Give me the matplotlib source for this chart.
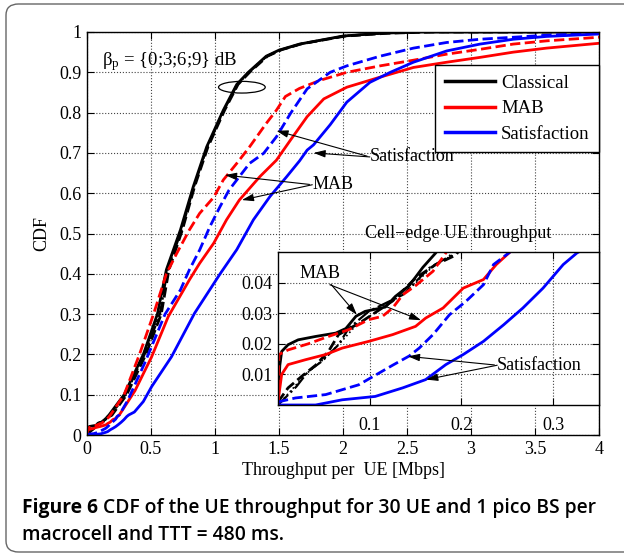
import matplotlib.pyplot as plt
from matplotlib.patches import Ellipse, FancyBboxPatch

plt.rcParams['font.family'] = 'Liberation Serif'
plt.rcParams['mathtext.fontset'] = 'custom'
plt.rcParams['mathtext.rm'] = 'Liberation Serif'
plt.rcParams['mathtext.it'] = 'Liberation Serif:italic'
plt.rcParams['font.size'] = 13

# Classical, beta_p = 0 / 3 / 6 / 9 dB (black)
cl0_x = [0, 0.002, 0.004, 0.011, 0.022, 0.041, 0.063, 0.074, 0.085, 0.095, 0.117, 0.128, 0.143, 0.158, 0.172,
         0.29, 0.44, 0.55, 0.62, 0.73, 0.83, 0.935, 1.065, 1.17, 1.26, 1.40, 1.50, 1.66, 2.0, 2.3, 2.6, 4.0]
cl0_y = [0, 0.013, 0.0175, 0.0197, 0.0213, 0.0224, 0.0235, 0.025, 0.029, 0.0306, 0.032, 0.0355, 0.039, 0.045, 0.0497,
         0.10, 0.20, 0.30, 0.41, 0.509, 0.616, 0.715, 0.806, 0.87, 0.90, 0.94, 0.955, 0.97, 0.99, 0.997, 1.0, 1.0]
cl3_x = [0, 0.011, 0.026, 0.041, 0.055, 0.066, 0.09, 0.125, 0.150, 0.172, 0.194,
         0.31, 0.46, 0.58, 0.64, 0.745, 0.84, 0.945, 1.075, 1.18, 1.27, 1.41, 1.52, 1.68, 2.02, 2.35, 2.7, 4.0]
cl3_y = [0.001, 0.0056, 0.0094, 0.013, 0.0175, 0.023, 0.027, 0.034, 0.0415, 0.0459, 0.049,
         0.10, 0.20, 0.30, 0.41, 0.509, 0.616, 0.715, 0.806, 0.87, 0.90, 0.94, 0.956, 0.971, 0.99, 0.997, 1.0, 1.0]
cl6_x = [0, 0.02, 0.033, 0.048, 0.066, 0.077, 0.099, 0.136, 0.165, 0.187,
         0.30, 0.45, 0.57, 0.63, 0.74, 0.835, 0.94, 1.07, 1.175, 1.265, 1.405, 1.51, 1.67, 2.01, 2.32, 2.65, 4.0]
cl6_y = [0, 0.006, 0.011, 0.0143, 0.0197, 0.025, 0.0306, 0.036, 0.0448, 0.0486,
         0.10, 0.20, 0.30, 0.41, 0.509, 0.616, 0.715, 0.806, 0.87, 0.90, 0.94, 0.955, 0.97, 0.99, 0.997, 1.0, 1.0]
cl9_x = [0, 0.03, 0.05, 0.07, 0.085, 0.11, 0.14, 0.168, 0.19,
         0.30, 0.45, 0.565, 0.625, 0.735, 0.835, 0.94, 1.07, 1.17, 1.26, 1.40, 1.51, 1.67, 2.0, 2.3, 2.6, 4.0]
cl9_y = [0, 0.01, 0.015, 0.021, 0.026, 0.031, 0.037, 0.045, 0.049,
         0.10, 0.20, 0.30, 0.41, 0.509, 0.616, 0.715, 0.806, 0.87, 0.90, 0.94, 0.955, 0.97, 0.99, 0.997, 1.0, 1.0]

# MAB (red)
mab_x = [0, 0.004, 0.011, 0.030, 0.052, 0.070, 0.099, 0.125, 0.150, 0.161, 0.180, 0.202, 0.224, 0.238, 0.253,
         0.375, 0.505, 0.635, 0.80, 0.88, 0.99, 1.09, 1.19, 1.35, 1.48, 1.59, 1.72, 1.85, 2.03, 2.29, 2.55, 2.81,
         3.07, 3.33, 3.59, 4.0]
mab_y = [0.001, 0.01, 0.0132, 0.0148, 0.0165, 0.0186, 0.0208, 0.023, 0.0257, 0.0284, 0.0317, 0.0382, 0.041, 0.0459,
         0.05, 0.11, 0.194, 0.294, 0.385, 0.426, 0.476, 0.534, 0.583, 0.641, 0.682, 0.732, 0.79, 0.834, 0.863, 0.888,
         0.912, 0.925, 0.937, 0.95, 0.96, 0.972]
mab_dash_x = [0, 0.001, 0.011, 0.033, 0.055, 0.077, 0.099, 0.114, 0.125, 0.136, 0.150, 0.169, 0.183,
              0.29, 0.41, 0.52, 0.62, 0.70, 0.80, 0.88, 0.99, 1.065, 1.17, 1.27, 1.40, 1.48, 1.55, 1.66, 1.82,
              2.03, 2.29, 2.55, 2.81, 3.07, 3.33, 3.59, 4.0]
mab_dash_y = [0, 0.0165, 0.018, 0.020, 0.0224, 0.0246, 0.0279, 0.029, 0.0317, 0.036, 0.039, 0.0437, 0.0497,
              0.10, 0.20, 0.30, 0.40, 0.45, 0.509, 0.55, 0.59, 0.633, 0.674, 0.715, 0.773, 0.806, 0.84, 0.86, 0.88,
              0.90, 0.916, 0.93, 0.945, 0.957, 0.97, 0.978, 0.987]

# Satisfaction (blue)
sat_x = [0, 0.041, 0.070, 0.106, 0.136, 0.161, 0.183, 0.202, 0.224, 0.246, 0.267, 0.289, 0.311, 0.326,
         0.37, 0.44, 0.505, 0.66, 0.84, 1.04, 1.17, 1.30, 1.43, 1.56, 1.66, 1.72, 1.77, 1.90, 2.03, 2.21, 2.37,
         2.55, 2.81, 3.07, 3.33, 3.59, 4.0]
sat_y = [0, 0.0, 0.0017, 0.0028, 0.0056, 0.0083, 0.0132, 0.0165, 0.0208, 0.0262, 0.0317, 0.0382, 0.0459, 0.0497,
         0.057, 0.083, 0.12, 0.194, 0.302, 0.40, 0.46, 0.534, 0.592, 0.641, 0.68, 0.707, 0.72, 0.77, 0.826, 0.875,
         0.90, 0.925, 0.953, 0.97, 0.982, 0.989, 0.995]
sat_dash_x = [0, 0.019, 0.052, 0.088, 0.125, 0.143, 0.154, 0.169, 0.187, 0.205, 0.224, 0.235, 0.253,
              0.32, 0.45, 0.61, 0.73, 0.80, 0.88, 0.96, 1.04, 1.11, 1.19, 1.27, 1.38, 1.48, 1.59, 1.72, 1.90,
              2.03, 2.29, 2.55, 2.81, 3.07, 3.59, 4.0]
sat_dash_y = [0.001, 0.0023, 0.0034, 0.0066, 0.013, 0.016, 0.0186, 0.023, 0.0295, 0.0339, 0.0393, 0.0459, 0.05,
              0.087, 0.178, 0.30, 0.36, 0.41, 0.459, 0.517, 0.567, 0.608, 0.641, 0.674, 0.699, 0.74, 0.798, 0.859,
              0.90, 0.916, 0.94, 0.96, 0.974, 0.982, 0.992, 0.997]

series = [
    (cl0_x, cl0_y, 'k', '-', 2.0),
    (cl3_x, cl3_y, 'k', '--', 2.0),
    (cl6_x, cl6_y, 'k', '-.', 1.6),
    (cl9_x, cl9_y, 'k', ':', 1.2),
    (mab_x, mab_y, 'r', '-', 2.0),
    (mab_dash_x, mab_dash_y, 'r', '--', 2.0),
    (sat_x, sat_y, 'b', '-', 2.0),
    (sat_dash_x, sat_dash_y, 'b', '--', 2.0),
]
legend_names = ['Classical', 'MAB', 'Satisfaction']
legend_colors = ['k', 'r', 'b']

W, H = 624, 556
fig = plt.figure(figsize=(W / 100, H / 100), dpi=100)

# rounded frame around the figure
fig.patches.append(FancyBboxPatch((6 / W, 4 / H), 700 / W, 548 / H, boxstyle='round,pad=0,rounding_size=0.02',
                                  transform=fig.transFigure, fill=False, ec='#666666', lw=1.0))

ax = fig.add_axes([87 / W, 1 - 435 / H, 512 / W, 403 / H])
for x, y, c, ls, lw in series:
    ax.plot(x, y, color=c, ls=ls, lw=lw)

ax.set_xlim(0, 4)
ax.set_ylim(0, 1)
ax.set_xticks([0, 0.5, 1, 1.5, 2, 2.5, 3, 3.5, 4])
ax.set_xticklabels(['0', '0.5', '1', '1.5', '2', '2.5', '3', '3.5', '4'])
ax.set_yticks([i / 10 for i in range(11)])
ax.set_yticklabels(['0', '0.1', '0.2', '0.3', '0.4', '0.5', '0.6', '0.7', '0.8', '0.9', '1'])
ax.tick_params(direction='in', top=True, right=True, length=5, width=0.8, pad=4)
ax.grid(True, ls=':', color='#444444', lw=0.8)
for s in ax.spines.values():
    s.set_linewidth(1.0)
ax.set_xlabel('Throughput per  UE [Mbps]', labelpad=3)
ax.set_ylabel('CDF', labelpad=6)

handles = [plt.Line2D([], [], color=c, lw=2.5) for c in legend_colors]
leg = ax.legend(handles, legend_names, loc='upper right', bbox_to_anchor=(1.0, 0.918), borderaxespad=0,
                fancybox=False, edgecolor='k', framealpha=1, handlelength=2.7, handletextpad=0.3,
                labelspacing=0.45, borderpad=0.5, fontsize=13.5)
leg.get_frame().set_linewidth(1.0)

ax.text(0.115, 0.917, r'β$_\mathrm{p}$ = {0;3;6;9} dB', fontsize=13.5, va='baseline')
ax.add_patch(Ellipse((1.21, 0.863), 0.365, 0.029, fill=False, ec='k', lw=0.9))

arrow = dict(arrowstyle='-|>,head_length=0.7,head_width=0.22', color='k', lw=0.8,
             shrinkA=0, shrinkB=0, relpos=(0, 0.5), mutation_scale=10)
ax.annotate('Satisfaction', xy=(1.48, 0.755), xytext=(2.21, 0.69), va='center', ha='left', arrowprops=arrow)
ax.annotate('', xy=(1.77, 0.70), xytext=(2.21, 0.69), arrowprops=arrow)
ax.annotate('MAB', xy=(1.078, 0.645), xytext=(1.76, 0.621), va='center', ha='left', arrowprops=arrow)
ax.annotate('', xy=(1.21, 0.583), xytext=(1.76, 0.621), arrowprops=arrow)

# inset: cell-edge throughput
ax_in = fig.add_axes([278 / W, 1 - 405 / H, 321 / W, 153 / H])
for x, y, c, ls, lw in series:
    ax_in.plot(x, y, color=c, ls=ls, lw=lw)
ax_in.set_xlim(0, 0.35)
ax_in.set_ylim(0, 0.05)
ax_in.set_xticks([0.1, 0.2, 0.3])
ax_in.set_xticklabels(['0.1', '0.2', '0.3'])
ax_in.set_yticks([0.01, 0.02, 0.03, 0.04])
ax_in.set_yticklabels(['0.01', '0.02', '0.03', '0.04'])
ax_in.tick_params(direction='in', top=True, right=True, length=5, width=0.8, pad=4)
ax_in.tick_params(axis='x', pad=9)
ax_in.grid(True, ls=':', color='#444444', lw=0.8)
for s in ax_in.spines.values():
    s.set_linewidth(1.0)
ax_in.text(0.56, 1.118, 'Cell\u2212edge UE throughput', transform=ax_in.transAxes, ha='center', va='center',
           fontsize=13)
ax_in.annotate('MAB', xy=(0.086, 0.0295), xytext=(0.024, 0.0431), va='center', ha='left',
               arrowprops=dict(arrow, relpos=(0.7, 0)))
ax_in.annotate('', xy=(0.156, 0.0277), xytext=(0.0565, 0.0393), arrowprops=arrow)
ax_in.annotate('Satisfaction', xy=(0.1417, 0.0159), xytext=(0.239, 0.013), va='center', ha='left',
               arrowprops=arrow)
ax_in.annotate('', xy=(0.1616, 0.0083), xytext=(0.239, 0.013), arrowprops=arrow)

# caption
cap_font = dict(fontsize=13.9, family='Open Sans')
cap1 = fig.text(22 / W, 1 - 513 / H, 'Figure 6', fontweight='bold', va='baseline', **cap_font)
ax.annotate(' CDF of the UE throughput for 30 UE and 1 pico BS per', xy=(1, 0), xycoords=cap1,
            fontweight='semibold', va='bottom', ha='left', annotation_clip=False, **cap_font)
fig.text(22 / W, 1 - 540 / H, 'macrocell and TTT = 480 ms.', fontweight='semibold', va='baseline', **cap_font)

fig.savefig('out.png', dpi=100)
